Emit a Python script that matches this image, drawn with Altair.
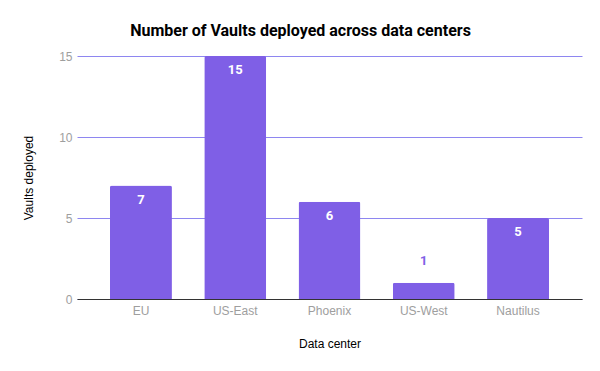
import altair as alt
import pandas as pd

centers = ["EU", "US-East", "Phoenix", "US-West", "Nautilus"]
vaults = [7, 15, 6, 1, 5]

df = pd.DataFrame({"center": centers, "vaults": vaults})

BAR = "#7f5fe6"
FONT = "Roboto"
AX = "Liberation Sans"

x = alt.X("center:N", sort=centers, title="Data center",
          scale=alt.Scale(paddingInner=0.343, paddingOuter=0.35),
          axis=alt.Axis(labelAngle=0, labelColor="#9e9e9e", labelFontSize=12, labelFont=AX,
                        titleFont=AX, titleFontSize=12, titleFontWeight="normal", titleColor="#000",
                        ticks=False, domain=True, domainColor="#333333", labelPadding=6,
                        titlePadding=22, grid=False))
y = alt.Y("vaults:Q", title="Vaults deployed",
          scale=alt.Scale(domain=[0, 15], nice=False),
          axis=alt.Axis(values=[0, 5, 10, 15], labelColor="#9e9e9e", labelFontSize=12, labelFont=AX,
                        titleFont=AX, titleFontSize=12, titleFontWeight="normal", titleColor="#000",
                        ticks=False, domain=False, gridColor="#8e86f0", gridOpacity=1,
                        labelPadding=5, titlePadding=23))

base = alt.Chart(df).encode(x=x, y=y)

bars = base.mark_bar(color=BAR, cornerRadiusTopLeft=2, cornerRadiusTopRight=2)

inside = base.transform_filter("datum.vaults >= 2").mark_text(
    baseline="middle", dy=14, color="white", fontWeight="bold", fontSize=13, font=FONT
).encode(text="vaults:Q")

outside = base.transform_filter("datum.vaults < 2").mark_text(
    baseline="middle", dy=-22, color=BAR, fontWeight="bold", fontSize=13, font=FONT
).encode(text="vaults:Q")

chart = (bars + inside + outside).properties(
    width=505, height=243,
    title=alt.TitleParams("Number of Vaults deployed across data centers", font=FONT,
                          fontSize=16, fontWeight="bold", color="#000", anchor="middle",
                          dx=-29, offset=11),
    autosize=alt.AutoSizeParams(type="none"),
    padding={"left": 69, "top": 48, "right": 10, "bottom": 56},
).configure_view(stroke=None)

chart.save("out.html", embed_options={"renderer": "svg", "actions": False})
